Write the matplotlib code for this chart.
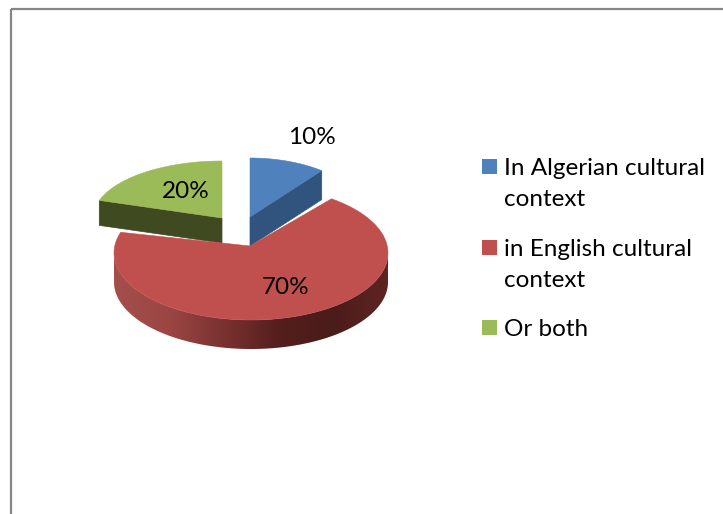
import numpy as np
import matplotlib
matplotlib.use('Agg')
import matplotlib.pyplot as plt
from matplotlib.colors import LinearSegmentedColormap
from matplotlib.patches import Polygon, Rectangle

# values and names of the slices
labels = ['In Algerian cultural\ncontext', 'in English cultural\ncontext', 'Or both']
values = [10, 70, 20]
top_colors = ['#4f81bd', '#c0504d', '#9bbb59']
cut_colors = ['#31547f', '#8a3a38', '#3f4a20']

# layout of each slice in pixels: apex x, apex y, rim centre x, rim centre y, x radius, y radius, depth
slice_geom = [(250, 217, 250, 224, 122, 66, 29),
              (250, 246, 251, 253, 137, 67, 29),
              (222, 218, 222, 218, 129, 57, 25)]
label_pos = [(312, 138), (286, 288), (186, 192)]
legend_rows = [166, 247, 327]

plt.rcParams['font.family'] = ['Lato', 'DejaVu Sans']

fig = plt.figure(figsize=(7.23, 5.14), dpi=100)
ax = fig.add_axes([0, 0, 1, 1])

# chart frame, right and bottom edges run off the picture
ax.add_patch(Rectangle((11, 9), 730, 530, fill=False, ec='#868686', lw=1.6))


def rim(geom, a0, a1, n=80):
    # angles clockwise from 12 o'clock
    ax_, ay_, cx, cy, rx, ry, depth = geom
    t = np.linspace(a0, a1, n)
    return cx + rx * np.sin(t), cy - ry * np.cos(t)


edges = np.cumsum([0] + values) / sum(values) * 2 * np.pi
wall_cmap = LinearSegmentedColormap.from_list('wall', ['#a54f4c', '#9c4644', '#7a3230', '#541f1d', '#4a1c1a', '#5e2522'])

# green goes first because the red slice overlaps it
for i in [2, 0, 1]:
    geom = slice_geom[i]
    px, py, cx, cy, rx, ry, depth = geom
    a0, a1 = edges[i], edges[i + 1]

    # visible cut face: right edge of blue, left edge of green
    if i != 1:
        cut = a1 if i == 0 else a0
        ox, oy = rim(geom, cut, cut, 2)
        ax.add_patch(Polygon([(px, py), (ox[0], oy[0]), (ox[0], oy[0] + depth), (px, py + depth)],
                             fc=cut_colors[i], ec=cut_colors[i], lw=0.5))

    # outer wall, only the front half of the rim shows
    lo, hi = max(a0, np.pi / 2), min(a1, 3 * np.pi / 2)
    if hi > lo:
        x, y = rim(geom, lo, hi, 200)
        pts = np.vstack([np.c_[x, y], np.c_[x[::-1], y[::-1] + depth]])
        wall = Polygon(pts, fc='none', ec='none')
        ax.add_patch(wall)
        im = ax.imshow(np.linspace(0, 1, 256)[None, :], cmap=wall_cmap, aspect='auto',
                       extent=(x.min(), x.max(), y.max() + depth, y.min()))
        im.set_clip_path(wall)

    # top face
    x, y = rim(geom, a0, a1)
    ax.add_patch(Polygon(np.vstack([[px, py], np.c_[x, y]]), fc=top_colors[i], ec=top_colors[i], lw=0.4))

ax.set_xlim(0, 723)
ax.set_ylim(514, 0)
ax.axis('off')

for (x, y), v in zip(label_pos, values):
    ax.text(x, y, f'{v}%', fontsize=17.5, color='black', ha='center', va='center')

# legend
for row, lab, col in zip(legend_rows, labels, top_colors):
    ax.add_patch(Rectangle((482, row - 7), 15, 15, fc=col, ec='none'))
    ax.text(504, row - 8, lab, fontsize=17.5, color='black', ha='left', va='top', linespacing=1.6)

fig.savefig('out.png', dpi=100)
